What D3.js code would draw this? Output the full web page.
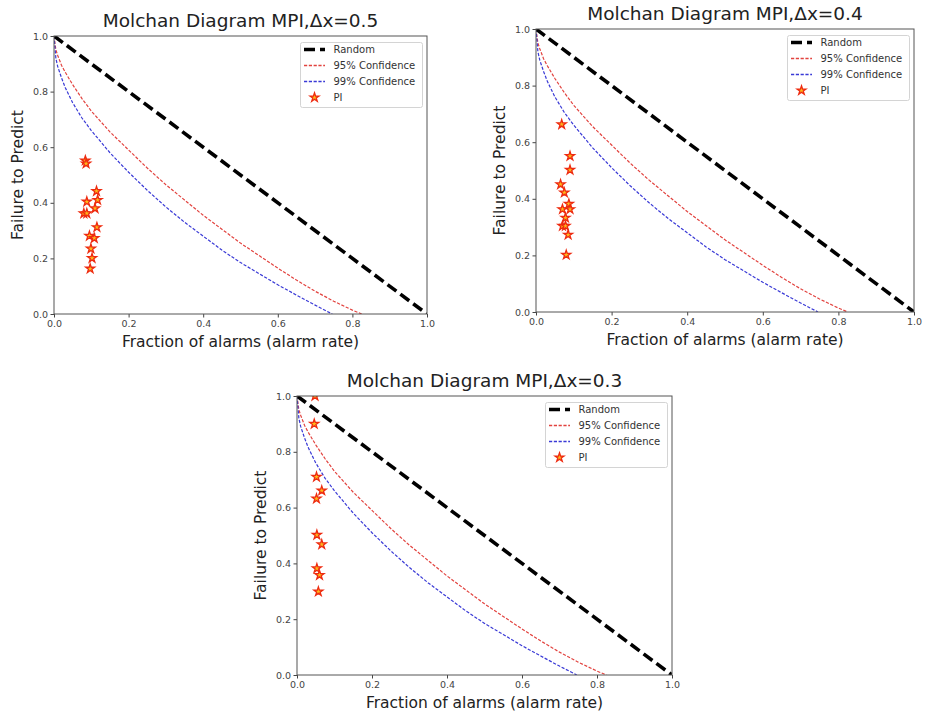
<!DOCTYPE html>
<html>
<head>
<meta charset="utf-8">
<script src="https://cdn.jsdelivr.net/npm/d3@7"></script>
<style>
  body { margin: 0; background: #fff; }
  svg { display: block; font-family: "DejaVu Sans", sans-serif; }
</style>
</head>
<body>
<svg id="chart" width="925" height="715"></svg>
<script>
// ---------- data ----------
const titles = ["Molchan Diagram MPI,\u0394x=0.5", "Molchan Diagram MPI,\u0394x=0.4", "Molchan Diagram MPI,\u0394x=0.3"];
const tickValues = [0, 0.2, 0.4, 0.6, 0.8, 1.0];
const legendLabels = ["Random", "95% Confidence", "99% Confidence", "PI"];

const randomX = [0, 1];
const randomY = [1, 0];

const conf95X = [0, 0.005, 0.01, 0.02, 0.03, 0.05, 0.075, 0.1, 0.15, 0.2, 0.25, 0.3, 0.35, 0.4, 0.45, 0.5, 0.55, 0.6, 0.65, 0.7, 0.75, 0.8, 0.825];
const conf95Y = [1.0, 0.95, 0.93, 0.895, 0.87, 0.825, 0.775, 0.73, 0.655, 0.59, 0.525, 0.465, 0.41, 0.355, 0.305, 0.255, 0.21, 0.165, 0.122, 0.082, 0.046, 0.014, 0.0];

const conf99X = [0, 0.005, 0.01, 0.02, 0.03, 0.05, 0.075, 0.1, 0.15, 0.2, 0.25, 0.3, 0.35, 0.4, 0.45, 0.5, 0.55, 0.6, 0.65, 0.7, 0.746];
const conf99Y = [1.0, 0.92, 0.89, 0.85, 0.815, 0.76, 0.705, 0.66, 0.58, 0.51, 0.445, 0.385, 0.33, 0.28, 0.23, 0.185, 0.145, 0.105, 0.068, 0.032, 0.0];

const pi05X = [0.084, 0.086, 0.088, 0.114, 0.117, 0.110, 0.080, 0.088, 0.115, 0.095, 0.108, 0.099, 0.102, 0.097];
const pi05Y = [0.552, 0.541, 0.404, 0.442, 0.410, 0.380, 0.362, 0.362, 0.312, 0.281, 0.273, 0.235, 0.201, 0.163];

const pi04X = [0.068, 0.090, 0.090, 0.065, 0.075, 0.087, 0.070, 0.090, 0.078, 0.070, 0.078, 0.085, 0.080];
const pi04Y = [0.663, 0.551, 0.502, 0.451, 0.422, 0.382, 0.363, 0.363, 0.333, 0.304, 0.304, 0.273, 0.202];

const pi03X = [0.048, 0.046, 0.052, 0.066, 0.052, 0.053, 0.066, 0.053, 0.060, 0.057];
const pi03Y = [1.000, 0.900, 0.710, 0.661, 0.632, 0.502, 0.468, 0.382, 0.358, 0.299];

// ---------- layout ----------
const panels = [
  { x0: 54,  x1: 427, y0: 36,  y1: 314, title: titles[0], px: pi05X, py: pi05Y },
  { x0: 536, x1: 914, y0: 29,  y1: 312, title: titles[1], px: pi04X, py: pi04Y },
  { x0: 297, x1: 672, y0: 396, y1: 675, title: titles[2], px: pi03X, py: pi03Y }
];

const svg = d3.select("#chart");
const starSym = d3.symbol().type(d3.symbolStar).size(25);
const starFill = "#ffb81a", starStroke = "#ee2a10";
const red = "#e2433f", blue = "#3a3ad6";

panels.forEach((p, i) => {
  const x = d3.scaleLinear().domain([0, 1]).range([p.x0, p.x1]);
  const y = d3.scaleLinear().domain([0, 1]).range([p.y1, p.y0]);
  const g = svg.append("g");

  const clipId = "clip" + i;
  svg.append("defs").append("clipPath").attr("id", clipId)
    .append("rect").attr("x", p.x0).attr("y", p.y0)
    .attr("width", p.x1 - p.x0).attr("height", p.y1 - p.y0);

  const plot = g.append("g").attr("clip-path", `url(#${clipId})`);
  const line = d3.line().x(d => x(d[0])).y(d => y(d[1]));

  plot.append("path").datum(d3.zip(conf95X, conf95Y))
    .attr("d", line).attr("fill", "none")
    .attr("stroke", red).attr("stroke-width", 1.2)
    .attr("stroke-dasharray", "3.2,1.6");
  plot.append("path").datum(d3.zip(conf99X, conf99Y))
    .attr("d", line).attr("fill", "none")
    .attr("stroke", blue).attr("stroke-width", 1.2)
    .attr("stroke-dasharray", "3.2,1.6");
  plot.append("path").datum(d3.zip(randomX, randomY))
    .attr("d", line).attr("fill", "none")
    .attr("stroke", "#000").attr("stroke-width", 3.6)
    .attr("stroke-dasharray", "11,5");

  plot.selectAll("path.star").data(d3.zip(p.px, p.py)).enter()
    .append("path").attr("class", "star")
    .attr("d", starSym)
    .attr("transform", d => `translate(${x(d[0])},${y(d[1])})`)
    .attr("fill", starFill).attr("stroke", starStroke).attr("stroke-width", 1.3);

  // axes
  const xAxis = d3.axisBottom(x).tickValues(tickValues).tickFormat(d3.format(".1f")).tickSize(3.5).tickPadding(2.5);
  const yAxis = d3.axisLeft(y).tickValues(tickValues).tickFormat(d3.format(".1f")).tickSize(3.5).tickPadding(2.5);
  const gx = g.append("g").attr("transform", `translate(0,${p.y1})`).call(xAxis);
  const gy = g.append("g").attr("transform", `translate(${p.x0},0)`).call(yAxis);
  [gx, gy].forEach(a => {
    a.select(".domain").remove();
    a.selectAll("line").attr("stroke", "#444");
    a.selectAll("text").attr("font-size", 9.5).attr("fill", "#444")
      .attr("font-family", "DejaVu Sans, sans-serif");
  });

  // frame
  g.append("rect").attr("x", p.x0).attr("y", p.y0)
    .attr("width", p.x1 - p.x0).attr("height", p.y1 - p.y0)
    .attr("fill", "none").attr("stroke", "#555").attr("stroke-width", 1);

  // title and labels
  g.append("text").attr("x", (p.x0 + p.x1) / 2).attr("y", p.y0 - 9)
    .attr("text-anchor", "middle").attr("font-size", 18.5).attr("fill", "#222")
    .text(p.title);
  g.append("text").attr("x", (p.x0 + p.x1) / 2).attr("y", p.y1 + 33)
    .attr("text-anchor", "middle").attr("font-size", 15.5).attr("fill", "#222")
    .text("Fraction of alarms (alarm rate)");
  g.append("text")
    .attr("transform", `translate(${p.x0 - 31},${(p.y0 + p.y1) / 2}) rotate(-90)`)
    .attr("text-anchor", "middle").attr("font-size", 15.5).attr("fill", "#222")
    .text("Failure to Predict");

  // legend
  const lw = 122, lh = 65;
  const lx = Math.round(p.x1 - 5.5 - lw), ly = p.y0 + 6;
  const lg = g.append("g").attr("transform", `translate(${lx},${ly})`);
  lg.append("rect").attr("x", 0.5).attr("y", 0.5).attr("width", lw).attr("height", lh).attr("rx", 2)
    .attr("fill", "#fff").attr("fill-opacity", 0.85).attr("stroke", "#d4d4d4");
  const rows = [7.5, 23.5, 39.5, 55.5];
  const handles = [
    { stroke: "#000", w: 3.6, dash: "11,5" },
    { stroke: red, w: 1.3, dash: "3.2,1.6" },
    { stroke: blue, w: 1.3, dash: "3.2,1.6" }
  ];
  handles.forEach((h, k) => {
    lg.append("line").attr("x1", 4).attr("x2", 25).attr("y1", rows[k]).attr("y2", rows[k])
      .attr("stroke", h.stroke).attr("stroke-width", h.w).attr("stroke-dasharray", h.dash);
  });
  lg.append("path").attr("d", starSym).attr("transform", `translate(14.5,${rows[3]})`)
    .attr("fill", starFill).attr("stroke", starStroke).attr("stroke-width", 1.3);
  legendLabels.forEach((t, k) => {
    lg.append("text").attr("x", 33.5).attr("y", rows[k]).attr("dy", "0.35em")
      .attr("font-size", 10).attr("fill", "#333").text(t);
  });
});
</script>
</body>
</html>
